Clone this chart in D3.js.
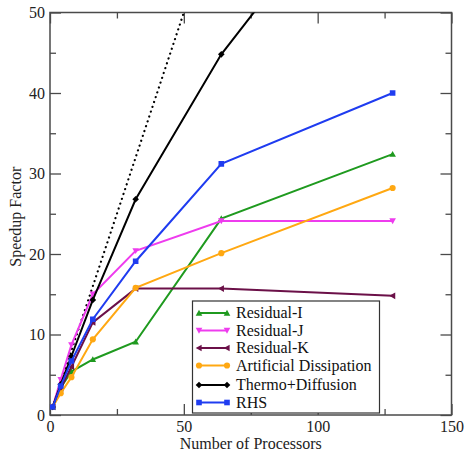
<!DOCTYPE html>
<html>
<head>
<meta charset="utf-8">
<script src="https://cdn.jsdelivr.net/npm/d3@7"></script>
<style>
  body { margin: 0; background: #fff; }
  svg { display: block; font-family: "Liberation Serif", "Times New Roman", serif; }
</style>
</head>
<body>
<svg id="chart" width="467" height="455"></svg>
<script>
// processors on the x axis
const processors = [1, 4, 8, 16, 32, 64, 128];

// speedup values
const residualI = [1, 3.4, 5.4, 6.9, 9.1, 24.4, 32.4];
const residualJ = [1, 4.4, 8.7, 15.0, 20.4, 24.1, 24.1];
const residualK = [1, 3.3, 6.0, 11.5, 15.7, 15.7, 14.8];
const artDiss = [1, 2.7, 4.7, 9.4, 15.8, 20.1, 28.2];
const thermoDiff = [1, 3.8, 7.3, 14.3, 26.8, 44.8, 72.2];
const rhs = [1, 3.6, 6.7, 11.9, 19.1, 31.2, 40.0];
const ideal = [1, 4, 8, 16, 32, 64, 128];

const seriesNames = ["Residual-I", "Residual-J", "Residual-K", "Artificial Dissipation", "Thermo+Diffusion", "RHS"];
const seriesValues = [residualI, residualJ, residualK, artDiss, thermoDiff, rhs];
const seriesColors = ["#1f9a1f", "#ee3cee", "#6b1048", "#ffa812", "#000000", "#1f3cf0"];
const seriesMarkers = ["triUp", "triDown", "triLeft", "circle", "diamond", "square"];

const xTicks = [0, 50, 100, 150];
const xMinor = [25, 75, 125];
const yTicks = [0, 10, 20, 30, 40, 50];
const yMinor = [5, 15, 25, 35, 45];

const svg = d3.select("#chart");
const pLeft = 50, pRight = 451.5, pTop = 12.5, pBottom = 415;

const x = d3.scaleLinear().domain([0, 150]).range([pLeft, pRight]);
const y = d3.scaleLinear().domain([0, 50]).range([pBottom, pTop]);

const frameColor = "#4a4a4a";

svg.append("defs").append("clipPath").attr("id", "plot")
  .append("rect").attr("x", pLeft).attr("y", pTop)
  .attr("width", pRight - pLeft).attr("height", pBottom - pTop);

function styleAxis(g) {
  g.select(".domain").remove();
  g.selectAll("line").attr("stroke", frameColor).attr("stroke-width", 1.3);
  g.selectAll("text").attr("fill", "#222").style("font-size", "16px")
    .style("font-family", "'Liberation Serif', 'Times New Roman', serif");
}

// bottom
svg.append("g").attr("transform", `translate(0,${pBottom})`)
  .call(d3.axisBottom(x).tickValues(xTicks).tickSize(-11).tickPadding(6).tickFormat(d3.format("d")))
  .call(styleAxis);
svg.append("g").attr("transform", `translate(0,${pBottom})`)
  .call(d3.axisBottom(x).tickValues(xMinor).tickSize(-6).tickFormat(""))
  .call(styleAxis);
// top
svg.append("g").attr("transform", `translate(0,${pTop})`)
  .call(d3.axisTop(x).tickValues(xTicks).tickSize(-11).tickFormat(""))
  .call(styleAxis);
svg.append("g").attr("transform", `translate(0,${pTop})`)
  .call(d3.axisTop(x).tickValues(xMinor).tickSize(-6).tickFormat(""))
  .call(styleAxis);
// left
svg.append("g").attr("transform", `translate(${pLeft},0)`)
  .call(d3.axisLeft(y).tickValues(yTicks).tickSize(-11).tickPadding(5).tickFormat(d3.format("d")))
  .call(styleAxis);
svg.append("g").attr("transform", `translate(${pLeft},0)`)
  .call(d3.axisLeft(y).tickValues(yMinor).tickSize(-6).tickFormat(""))
  .call(styleAxis);
// right
svg.append("g").attr("transform", `translate(${pRight},0)`)
  .call(d3.axisRight(y).tickValues(yTicks).tickSize(-11).tickFormat(""))
  .call(styleAxis);
svg.append("g").attr("transform", `translate(${pRight},0)`)
  .call(d3.axisRight(y).tickValues(yMinor).tickSize(-6).tickFormat(""))
  .call(styleAxis);

// frame
svg.append("rect")
  .attr("x", pLeft).attr("y", pTop)
  .attr("width", pRight - pLeft).attr("height", pBottom - pTop)
  .attr("fill", "none").attr("stroke", frameColor).attr("stroke-width", 1.5);

// axis titles
svg.append("text")
  .attr("x", (pLeft + pRight) / 2).attr("y", 449)
  .attr("text-anchor", "middle").attr("fill", "#222")
  .style("font-size", "16px")
  .text("Number of Processors");
svg.append("text")
  .attr("transform", `translate(21,${(pTop + pBottom) / 2 + 3}) rotate(-90)`)
  .attr("text-anchor", "middle").attr("fill", "#222")
  .style("font-size", "16px")
  .text("Speedup Factor");

const line = d3.line().x((d, i) => x(processors[i])).y(d => y(d));

const plot = svg.append("g").attr("clip-path", "url(#plot)");

// ideal speedup
plot.append("path")
  .datum(ideal)
  .attr("d", line)
  .attr("fill", "none").attr("stroke", "#000")
  .attr("stroke-width", 2.2)
  .attr("stroke-linecap", "round")
  .attr("stroke-dasharray", "0.1,5");

function markerPath(type) {
  const s = 3.3;
  switch (type) {
    case "triUp": return `M0,${-s}L${s},${s * 0.8}L${-s},${s * 0.8}Z`;
    case "triDown": return `M0,${s}L${s},${-s * 0.8}L${-s},${-s * 0.8}Z`;
    case "triLeft": return `M${-s},0L${s * 0.8},${-s}L${s * 0.8},${s}Z`;
    case "diamond": return `M0,${-s}L${s},0L0,${s}L${-s},0Z`;
    case "square": return `M${-s * 0.85},${-s * 0.85}h${s * 1.7}v${s * 1.7}h${-s * 1.7}Z`;
    default: return d3.symbol(d3.symbolCircle, 30)();
  }
}

seriesValues.forEach((vals, k) => {
  const g = plot.append("g");
  g.append("path")
    .datum(vals)
    .attr("d", line)
    .attr("fill", "none")
    .attr("stroke", seriesColors[k])
    .attr("stroke-width", 2);
  g.selectAll("path.mk")
    .data(vals)
    .join("path")
    .attr("class", "mk")
    .attr("transform", (d, i) => `translate(${x(processors[i])},${y(d)})`)
    .attr("d", markerPath(seriesMarkers[k]))
    .attr("fill", seriesColors[k]);
});

// legend
const legend = svg.append("g");
legend.append("rect")
  .attr("x", 192.5).attr("y", 301)
  .attr("width", 187).attr("height", 112)
  .attr("fill", "#fff").attr("stroke", "#333").attr("stroke-width", 1.2);

seriesNames.forEach((name, k) => {
  const ly = 313 + k * 17.5 + (k >= 4 ? 2 : 0);
  const g = legend.append("g").attr("transform", `translate(0,${ly})`);
  g.append("line")
    .attr("x1", 199).attr("x2", 227)
    .attr("stroke", seriesColors[k]).attr("stroke-width", 2);
  [199, 227].forEach(px => {
    g.append("path")
      .attr("transform", `translate(${px},0)`)
      .attr("d", markerPath(seriesMarkers[k]))
      .attr("fill", seriesColors[k]);
  });
  g.append("text")
    .attr("x", 236).attr("y", 5)
    .attr("fill", "#111")
    .style("font-size", "16px")
    .text(name);
});
</script>
</body>
</html>
